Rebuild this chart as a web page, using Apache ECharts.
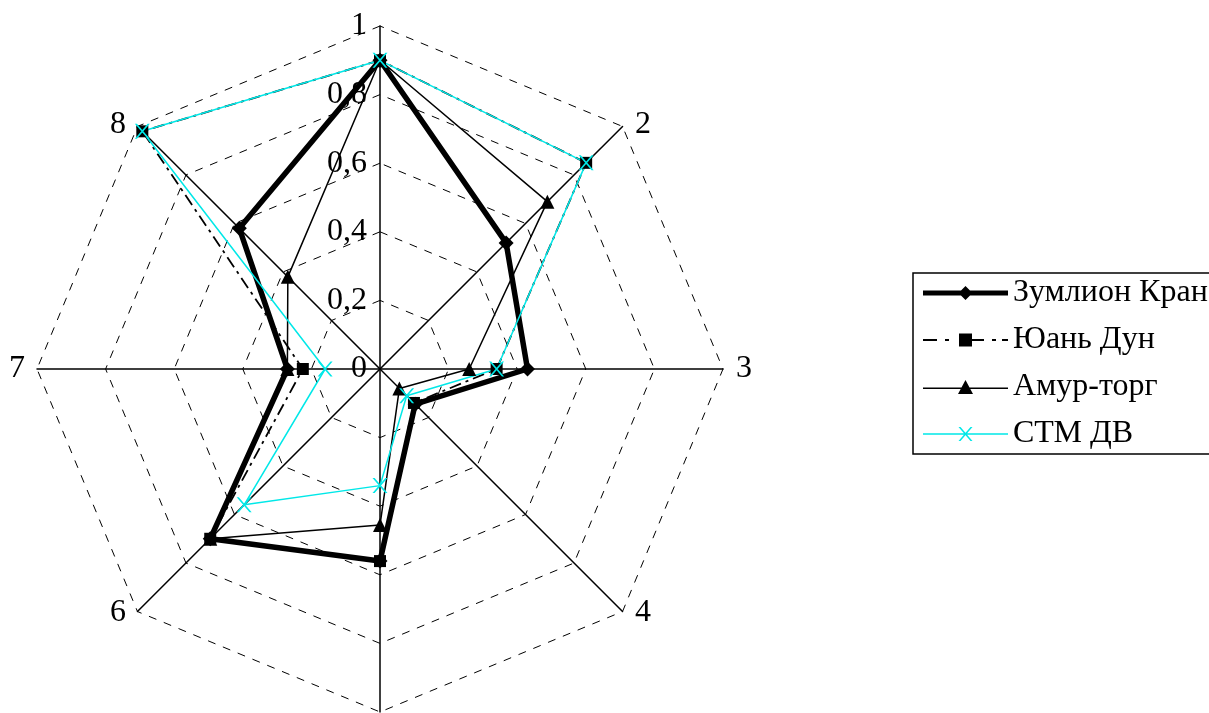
<!DOCTYPE html>
<html>
<head>
<meta charset="utf-8">
<script src="https://cdn.jsdelivr.net/npm/echarts@6/dist/echarts.min.js"></script>
<style>
  html, body { margin: 0; padding: 0; background: #fff; }
  #main { width: 1209px; height: 713px; }
</style>
</head>
<body>
<div id="main"></div>
<script>
// категории (оси) и значения рядов
var categories = ['1', '2', '3', '4', '5', '6', '7', '8'];
var hiddenNames = ['1', '5']; // "1" is shown by the value label, "5" falls below the picture
var seriesNames = ['Зумлион Кран', 'Юань Дун', 'Амур-торг', 'СТМ ДВ'];
var zumlion = [0.90, 0.52, 0.43, 0.145, 0.56, 0.70, 0.27, 0.58];
var yuanDun = [0.90, 0.85, 0.34, 0.14, 0.56, 0.70, 0.225, 0.98];
var amurTorg = [0.90, 0.69, 0.26, 0.08, 0.455, 0.70, 0.27, 0.38];
var stmDv = [0.90, 0.85, 0.34, 0.11, 0.34, 0.56, 0.16, 0.98];

var FONT = 'Liberation Serif';

// radar goes counter-clockwise, so reorder to get 1..8 clockwise
var order = [0, 7, 6, 5, 4, 3, 2, 1];
function reorder(arr) {
    return order.map(function(i) { return arr[i]; });
}

var indicator = order.map(function(i, k) {
    var ind = { name: categories[i], min: 0, max: 1 };
    if (k === 0) {
        ind.axisLabel = { show: true };
    }
    return ind;
});

var xSymbol = 'path://M0,0 L2,0 L14,14 L12,14 Z M12,0 L14,0 L2,14 L0,14 Z';

// значки легенды: линия + маркер, в рамке 85x14
var legendIcons = [
    'path://M0,4.5 L85,4.5 L85,9.5 L0,9.5 Z M42.5,0 L49.5,7 L42.5,14 L35.5,7 Z',
    'path://M0,6 L14,6 L14,8 L0,8 Z M22,6 L26,6 L26,8 L22,8 Z M36,0.5 L49,0.5 L49,13.5 L36,13.5 Z M49,6 L61,6 L61,8 L49,8 Z M69,6 L73,6 L73,8 L69,8 Z M79,6 L85,6 L85,8 L79,8 Z',
    'path://M0,7.5 L85,7.5 L85,9 L0,9 Z M42.5,0 L50,14 L35,14 Z',
    'path://M0,6.25 L85,6.25 L85,7.75 L0,7.75 Z M35.5,0 L37.5,0 L49.5,14 L47.5,14 Z M47.5,0 L49.5,0 L37.5,14 L35.5,14 Z'
];

var option = {
    backgroundColor: '#fff',
    animation: false,
    legend: {
        orient: 'vertical',
        left: 913,
        top: 273,
        padding: [4, 200, 4, 10],
        itemWidth: 85,
        itemHeight: 14,
        itemGap: 15,
        borderColor: '#000',
        borderWidth: 1.5,
        itemStyle: { borderWidth: 0 },
        textStyle: { fontFamily: FONT, fontSize: 32, color: '#000' },
        data: seriesNames.map(function(n, i) {
            return { name: n, icon: legendIcons[i] };
        })
    },
    radar: {
        center: [380, 369],
        radius: 343,
        shape: 'polygon',
        splitNumber: 5,
        indicator: indicator,
        axisName: {
            color: '#000',
            fontFamily: FONT,
            fontSize: 32,
            verticalAlign: 'middle',
            padding: [0, 10, 0, 11],
            formatter: function(name) {
                return hiddenNames.indexOf(name) >= 0 ? '' : name;
            }
        },
        nameGap: 2,
        axisLine: { lineStyle: { color: '#000', width: 1.5 } },
        axisTick: { show: false },
        axisLabel: {
            show: false,
            color: '#000',
            fontFamily: FONT,
            fontSize: 32,
            margin: 13,
            formatter: function(v) {
                return String(parseFloat(v.toFixed(1))).replace('.', ',');
            }
        },
        splitLine: { lineStyle: { color: '#000', width: 1, type: [8, 8] } },
        splitArea: { show: false }
    },
    series: [
        {
            type: 'radar',
            name: seriesNames[0],
            symbol: 'diamond',
            symbolSize: 15,
            itemStyle: { color: '#000' },
            lineStyle: { color: '#000', width: 5.5 },
            data: [{ name: seriesNames[0], value: reorder(zumlion) }]
        },
        {
            type: 'radar',
            name: seriesNames[1],
            symbol: 'rect',
            symbolSize: 12,
            itemStyle: { color: '#000' },
            lineStyle: { color: '#000', width: 1.8, type: [12, 5, 3, 5] },
            data: [{ name: seriesNames[1], value: reorder(yuanDun) }]
        },
        {
            type: 'radar',
            name: seriesNames[2],
            symbol: 'triangle',
            symbolSize: 14,
            itemStyle: { color: '#000' },
            lineStyle: { color: '#000', width: 1.5 },
            data: [{ name: seriesNames[2], value: reorder(amurTorg) }]
        },
        {
            type: 'radar',
            name: seriesNames[3],
            symbol: xSymbol,
            symbolSize: 15,
            itemStyle: { color: '#00e8e8' },
            lineStyle: { color: '#00e8e8', width: 1.5 },
            data: [{ name: seriesNames[3], value: reorder(stmDv) }]
        }
    ]
};

var myChart = echarts.init(document.getElementById('main'));
myChart.setOption(option);
</script>
</body>
</html>
